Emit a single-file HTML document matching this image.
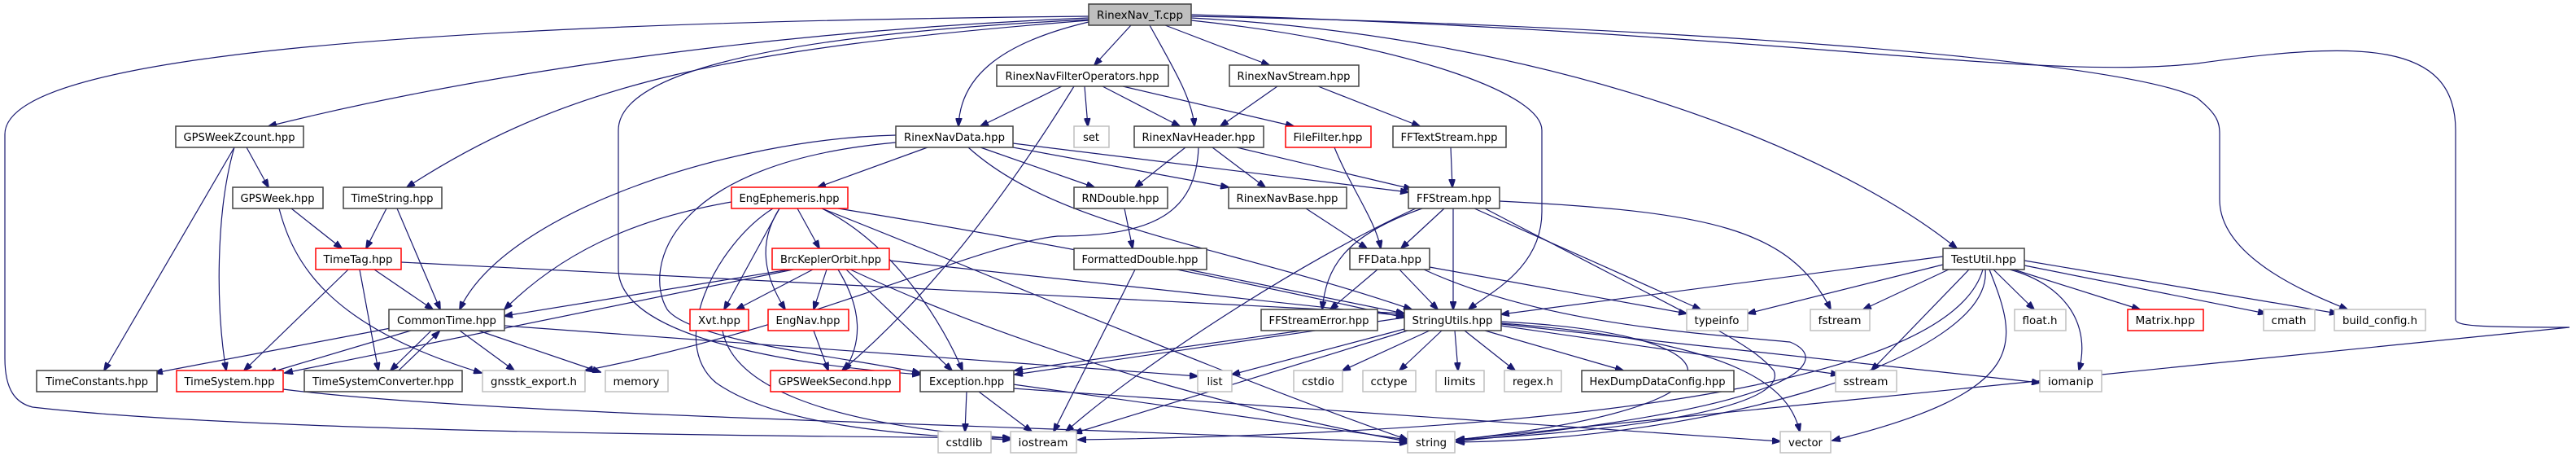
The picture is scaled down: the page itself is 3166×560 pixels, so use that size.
<!DOCTYPE html>
<html><head><meta charset="utf-8"><style>
html,body{margin:0;padding:0;background:#fff;}
svg{display:block;}
text{font-family:"DejaVu Sans","Liberation Sans",sans-serif;font-size:13px;fill:#000;}
.e{fill:none;stroke:#191970;stroke-width:1.2;}
.b{fill:#fff;stroke:#404040;stroke-width:1.5;}
.r{fill:#fff;stroke:#ff0000;stroke-width:1.5;}
.g{fill:#fff;stroke:#bfbfbf;stroke-width:1.5;}
</style></head><body>
<svg width="3166" height="560" viewBox="0 0 3166 560" xmlns="http://www.w3.org/2000/svg">
<defs>
<marker id="a" markerWidth="11" markerHeight="8" refX="10" refY="4" orient="auto" markerUnits="userSpaceOnUse">
<path d="M0,0 L11,4 L0,8 z" fill="#191970" stroke="#191970"/></marker>
</defs>
<g marker-end="url(#a)">
<!-- RinexNav_T -->
<path class="e" d="M1390,31 L1345,80"/>
<path class="e" d="M1338,27 C1220,55 1180,100 1178,155"/>
<path class="e" d="M1413,31 C1440,80 1465,120 1468,155"/>
<path class="e" d="M1432,31 L1560,80"/>
<path class="e" d="M1338,22 C900,40 550,100 330,155"/>
<path class="e" d="M1338,25 C900,60 700,100 500,230"/>
<path class="e" d="M1338,20 C300,30 6,90 6,165 L6,440 C6,480 20,495 40,500 C300,530 900,535 1242,538"/>
<path class="e" d="M1338,24 C900,45 760,100 760,160 L760,330 C760,420 1000,450 1131,460"/>
<path class="e" d="M1464,25 C1700,50 1895,110 1895,160 L1895,260 C1895,330 1830,360 1805,380"/>
<path class="e" d="M1464,22 C1900,45 2250,180 2405,305"/>
<path class="e" d="M1464,20 C2000,30 2600,70 2700,120 C2725,140 2728,150 2728,165 L2728,245 C2728,320 2850,365 2885,380"/>
<path class="e" d="M1464,18 C2200,40 2500,100 2700,78 C2900,50 3018,50 3018,160 L3018,392 C3018,400 3040,402 3158,402 L1790,540"/>
<!-- FilterOperators -->
<path class="e" d="M1305,106 L1205,155"/>
<path class="e" d="M1333,106 L1337,155"/>
<path class="e" d="M1355,106 L1450,155"/>
<path class="e" d="M1380,106 L1590,155"/>
<path class="e" d="M1320,106 C1200,300 1100,400 1035,455"/>
<!-- RinexNavStream -->
<path class="e" d="M1570,106 L1500,155"/>
<path class="e" d="M1620,106 L1745,155"/>
<!-- RinexNavData -->
<path class="e" d="M1140,181 L1005,230"/>
<path class="e" d="M1205,181 L1345,230"/>
<path class="e" d="M1245,181 L1510,230"/>
<path class="e" d="M1245,176 L1731,236"/>
<path class="e" d="M1101,166 C900,170 620,260 565,380"/>
<path class="e" d="M1190,181 C1300,280 1500,300 1735,380"/>
<path class="e" d="M1101,175 C820,200 790,330 820,380 C850,420 1050,440 1131,458"/>
<!-- RinexNavHeader -->
<path class="e" d="M1457,181 L1395,230"/>
<path class="e" d="M1490,181 L1555,230"/>
<path class="e" d="M1520,181 L1735,232"/>
<path class="e" d="M1473,181 C1470,260 1420,290 1300,290 C1200,300 1000,400 719,455"/>
<!-- FileFilter, FFTextStream, Base, RNDouble -->
<path class="e" d="M1640,181 C1660,230 1690,270 1697,305"/>
<path class="e" d="M1783,181 L1785,230"/>
<path class="e" d="M1605,256 L1680,305"/>
<path class="e" d="M1382,256 L1392,305"/>
<!-- FFStream -->
<path class="e" d="M1775,256 L1722,305"/>
<path class="e" d="M1786,256 L1786,380"/>
<path class="e" d="M1748,256 C1650,290 1630,330 1625,380"/>
<path class="e" d="M1812,256 L2090,380"/>
<path class="e" d="M1843,247 C2100,260 2200,280 2250,380"/>
<path class="e" d="M1740,256 C1600,320 1400,450 1310,530"/>
<path class="e" d="M1825,256 C2100,400 2150,420 2180,455 C2200,500 2000,530 1790,540"/>
<!-- FFData -->
<path class="e" d="M1693,331 L1635,380"/>
<path class="e" d="M1720,331 L1767,380"/>
<path class="e" d="M1757,328 L2073,385"/>
<path class="e" d="M1750,331 C1900,400 2100,410 2200,420 C2250,440 2230,500 1790,542"/>
<!-- FormattedDouble -->
<path class="e" d="M1460,331 L1726,385"/>
<path class="e" d="M1395,331 L1295,530"/>
<!-- EngEphemeris -->
<path class="e" d="M980,256 L1007,305"/>
<path class="e" d="M899,248 C800,265 700,300 620,380"/>
<path class="e" d="M958,256 L890,380"/>
<path class="e" d="M958,256 C930,300 940,340 965,380"/>
<path class="e" d="M1010,256 C1100,300 1160,400 1183,455"/>
<path class="e" d="M950,256 C880,300 820,420 880,470 C950,520 1100,535 1242,540"/>
<path class="e" d="M1010,256 C1200,330 1500,460 1730,540"/>
<path class="e" d="M1030,256 C1300,300 1500,340 1726,390"/>
<!-- BrcKeplerOrbit -->
<path class="e" d="M999,331 L905,380"/>
<path class="e" d="M1016,331 L1000,380"/>
<path class="e" d="M1030,331 C1060,380 1060,420 1038,455"/>
<path class="e" d="M1040,331 L1170,455"/>
<path class="e" d="M970,331 L620,388"/>
<path class="e" d="M975,331 L350,458"/>
<path class="e" d="M1093,320 L1726,388"/>
<path class="e" d="M1045,331 C1300,450 1600,520 1730,542"/>
<!-- Xvt, EngNav -->
<path class="e" d="M888,406 C900,470 1000,520 1242,538"/>
<path class="e" d="M1000,406 L1018,455"/>
<!-- TimeTag -->
<path class="e" d="M460,331 L532,380"/>
<path class="e" d="M428,331 L300,455"/>
<path class="e" d="M442,331 L465,455"/>
<path class="e" d="M493,322 L1726,385"/>
<!-- GPSWeekZcount -->
<path class="e" d="M303,181 L330,230"/>
<path class="e" d="M288,181 L128,455"/>
<path class="e" d="M288,181 C265,260 265,380 278,455"/>
<!-- GPSWeek / TimeString -->
<path class="e" d="M358,256 L420,305"/>
<path class="e" d="M343,256 C360,320 400,400 592,458"/>
<path class="e" d="M475,256 L450,305"/>
<path class="e" d="M488,256 L541,380"/>
<!-- CommonTime -->
<path class="e" d="M480,403 L190,458"/>
<path class="e" d="M505,406 L330,458"/>
<path class="e" d="M530,406 L480,455"/>
<path class="e" d="M565,406 L632,455"/>
<path class="e" d="M588,406 L738,457"/>
<path class="e" d="M620,400 L1472,462"/>
<path class="e" d="M490,455 L540,407"/>
<!-- TimeSystem -->
<path class="e" d="M348,478 C600,510 1200,520 1730,544"/>
<!-- Exception -->
<path class="e" d="M1188,481 L1186,530"/>
<path class="e" d="M1203,481 L1268,530"/>
<path class="e" d="M1245,472 L1730,540"/>
<path class="e" d="M1245,477 L2188,542"/>
<!-- StringUtils -->
<path class="e" d="M1726,390 L1247,460"/>
<path class="e" d="M1730,403 L1514,460"/>
<path class="e" d="M1757,406 L1650,455"/>
<path class="e" d="M1772,406 L1720,455"/>
<path class="e" d="M1788,406 L1792,455"/>
<path class="e" d="M1800,406 L1862,455"/>
<path class="e" d="M1825,406 L1995,455"/>
<path class="e" d="M1845,400 L2260,460"/>
<path class="e" d="M1845,398 L2507,470"/>
<path class="e" d="M1845,395 C2150,410 2170,500 1790,540"/>
<path class="e" d="M1845,397 C2150,420 2200,480 2212,530"/>
<path class="e" d="M1730,406 L1320,532"/>
<path class="e" d="M1600,406 L1247,455"/>
<!-- TestUtil -->
<path class="e" d="M2388,315 L1845,386"/>
<path class="e" d="M2388,325 L2148,385"/>
<path class="e" d="M2395,331 L2290,380"/>
<path class="e" d="M2420,331 L2300,455"/>
<path class="e" d="M2450,331 L2500,380"/>
<path class="e" d="M2475,331 L2630,380"/>
<path class="e" d="M2488,326 L2785,385"/>
<path class="e" d="M2488,320 L2873,385"/>
<path class="e" d="M2470,331 C2540,350 2570,400 2555,455"/>
<path class="e" d="M2437,331 C2400,460 2000,530 1325,540"/>
<path class="e" d="M2440,331 C2450,440 2100,540 1790,543"/>
<path class="e" d="M2445,331 C2480,420 2500,480 2252,541"/>
</g>
<!-- nodes -->
<rect x="1338" y="5" width="126" height="26" fill="#bfbfbf" stroke="#404040" stroke-width="1.5"/><text x="1401" y="23" text-anchor="middle" textLength="106" lengthAdjust="spacingAndGlyphs">RinexNav_T.cpp</text>
<rect class="b" x="1225" y="80" width="211" height="26"/><text x="1330" y="98" text-anchor="middle" textLength="189" lengthAdjust="spacingAndGlyphs">RinexNavFilterOperators.hpp</text>
<rect class="b" x="1511" y="80" width="159" height="26"/><text x="1590" y="98" text-anchor="middle" textLength="139" lengthAdjust="spacingAndGlyphs">RinexNavStream.hpp</text>
<rect class="b" x="216" y="155" width="157" height="26"/><text x="294" y="173" text-anchor="middle" textLength="137" lengthAdjust="spacingAndGlyphs">GPSWeekZcount.hpp</text>
<rect class="b" x="1101" y="155" width="144" height="26"/><text x="1173" y="173" text-anchor="middle" textLength="124" lengthAdjust="spacingAndGlyphs">RinexNavData.hpp</text>
<rect class="g" x="1320" y="155" width="43" height="26"/><text x="1341" y="173" text-anchor="middle">set</text>
<rect class="b" x="1394" y="155" width="159" height="26"/><text x="1473" y="173" text-anchor="middle" textLength="139" lengthAdjust="spacingAndGlyphs">RinexNavHeader.hpp</text>
<rect class="r" x="1580" y="155" width="105" height="26"/><text x="1632" y="173" text-anchor="middle" textLength="85" lengthAdjust="spacingAndGlyphs">FileFilter.hpp</text>
<rect class="b" x="1712" y="155" width="139" height="26"/><text x="1781" y="173" text-anchor="middle" textLength="119" lengthAdjust="spacingAndGlyphs">FFTextStream.hpp</text>
<rect class="b" x="286" y="230" width="111" height="26"/><text x="341" y="248" text-anchor="middle" textLength="91" lengthAdjust="spacingAndGlyphs">GPSWeek.hpp</text>
<rect class="b" x="422" y="230" width="121" height="26"/><text x="482" y="248" text-anchor="middle" textLength="101" lengthAdjust="spacingAndGlyphs">TimeString.hpp</text>
<rect class="r" x="899" y="230" width="143" height="26"/><text x="970" y="248" text-anchor="middle" textLength="123" lengthAdjust="spacingAndGlyphs">EngEphemeris.hpp</text>
<rect class="b" x="1320" y="230" width="115" height="26"/><text x="1377" y="248" text-anchor="middle" textLength="95" lengthAdjust="spacingAndGlyphs">RNDouble.hpp</text>
<rect class="b" x="1510" y="230" width="145" height="26"/><text x="1582" y="248" text-anchor="middle" textLength="125" lengthAdjust="spacingAndGlyphs">RinexNavBase.hpp</text>
<rect class="b" x="1731" y="230" width="112" height="26"/><text x="1787" y="248" text-anchor="middle" textLength="92" lengthAdjust="spacingAndGlyphs">FFStream.hpp</text>
<rect class="r" x="388" y="305" width="105" height="26"/><text x="440" y="323" text-anchor="middle" textLength="85" lengthAdjust="spacingAndGlyphs">TimeTag.hpp</text>
<rect class="r" x="949" y="305" width="144" height="26"/><text x="1021" y="323" text-anchor="middle" textLength="124" lengthAdjust="spacingAndGlyphs">BrcKeplerOrbit.hpp</text>
<rect class="b" x="1320" y="305" width="163" height="26"/><text x="1401" y="323" text-anchor="middle" textLength="143" lengthAdjust="spacingAndGlyphs">FormattedDouble.hpp</text>
<rect class="b" x="1659" y="305" width="98" height="26"/><text x="1708" y="323" text-anchor="middle" textLength="78" lengthAdjust="spacingAndGlyphs">FFData.hpp</text>
<rect class="b" x="2388" y="305" width="100" height="26"/><text x="2438" y="323" text-anchor="middle" textLength="80" lengthAdjust="spacingAndGlyphs">TestUtil.hpp</text>
<rect class="b" x="478" y="380" width="142" height="26"/><text x="549" y="398" text-anchor="middle" textLength="122" lengthAdjust="spacingAndGlyphs">CommonTime.hpp</text>
<rect class="r" x="848" y="380" width="72" height="26"/><text x="884" y="398" text-anchor="middle" textLength="52" lengthAdjust="spacingAndGlyphs">Xvt.hpp</text>
<rect class="r" x="944" y="380" width="99" height="26"/><text x="993" y="398" text-anchor="middle" textLength="79" lengthAdjust="spacingAndGlyphs">EngNav.hpp</text>
<rect class="b" x="1550" y="380" width="143" height="26"/><text x="1621" y="398" text-anchor="middle" textLength="123" lengthAdjust="spacingAndGlyphs">FFStreamError.hpp</text>
<rect class="b" x="1726" y="380" width="119" height="26"/><text x="1785" y="398" text-anchor="middle" textLength="99" lengthAdjust="spacingAndGlyphs">StringUtils.hpp</text>
<rect class="g" x="2073" y="380" width="75" height="26"/><text x="2110" y="398" text-anchor="middle" textLength="55" lengthAdjust="spacingAndGlyphs">typeinfo</text>
<rect class="g" x="2225" y="380" width="73" height="26"/><text x="2261" y="398" text-anchor="middle" textLength="53" lengthAdjust="spacingAndGlyphs">fstream</text>
<rect class="g" x="2476" y="380" width="63" height="26"/><text x="2507" y="398" text-anchor="middle" textLength="43" lengthAdjust="spacingAndGlyphs">float.h</text>
<rect class="r" x="2615" y="380" width="93" height="26"/><text x="2661" y="398" text-anchor="middle" textLength="73" lengthAdjust="spacingAndGlyphs">Matrix.hpp</text>
<rect class="g" x="2782" y="380" width="63" height="26"/><text x="2813" y="398" text-anchor="middle" textLength="43" lengthAdjust="spacingAndGlyphs">cmath</text>
<rect class="g" x="2869" y="380" width="112" height="26"/><text x="2925" y="398" text-anchor="middle" textLength="92" lengthAdjust="spacingAndGlyphs">build_config.h</text>
<rect class="b" x="45" y="455" width="148" height="26"/><text x="119" y="473" text-anchor="middle" textLength="126" lengthAdjust="spacingAndGlyphs">TimeConstants.hpp</text>
<rect class="r" x="217" y="455" width="131" height="26"/><text x="282" y="473" text-anchor="middle" textLength="111" lengthAdjust="spacingAndGlyphs">TimeSystem.hpp</text>
<rect class="b" x="374" y="455" width="194" height="26"/><text x="471" y="473" text-anchor="middle" textLength="174" lengthAdjust="spacingAndGlyphs">TimeSystemConverter.hpp</text>
<rect class="g" x="593" y="455" width="126" height="26"/><text x="656" y="473" text-anchor="middle" textLength="106" lengthAdjust="spacingAndGlyphs">gnsstk_export.h</text>
<rect class="g" x="744" y="455" width="77" height="26"/><text x="782" y="473" text-anchor="middle" textLength="57" lengthAdjust="spacingAndGlyphs">memory</text>
<rect class="r" x="947" y="455" width="159" height="26"/><text x="1026" y="473" text-anchor="middle" textLength="139" lengthAdjust="spacingAndGlyphs">GPSWeekSecond.hpp</text>
<rect class="b" x="1131" y="455" width="115" height="26"/><text x="1188" y="473" text-anchor="middle" textLength="92" lengthAdjust="spacingAndGlyphs">Exception.hpp</text>
<rect class="g" x="1472" y="455" width="42" height="26"/><text x="1493" y="473" text-anchor="middle">list</text>
<rect class="g" x="1590" y="455" width="60" height="26"/><text x="1620" y="473" text-anchor="middle" textLength="40" lengthAdjust="spacingAndGlyphs">cstdio</text>
<rect class="g" x="1675" y="455" width="65" height="26"/><text x="1707" y="473" text-anchor="middle" textLength="45" lengthAdjust="spacingAndGlyphs">cctype</text>
<rect class="g" x="1765" y="455" width="59" height="26"/><text x="1794" y="473" text-anchor="middle" textLength="39" lengthAdjust="spacingAndGlyphs">limits</text>
<rect class="g" x="1849" y="455" width="70" height="26"/><text x="1884" y="473" text-anchor="middle" textLength="50" lengthAdjust="spacingAndGlyphs">regex.h</text>
<rect class="b" x="1944" y="455" width="187" height="26"/><text x="2037" y="473" text-anchor="middle" textLength="167" lengthAdjust="spacingAndGlyphs">HexDumpDataConfig.hpp</text>
<rect class="g" x="2256" y="455" width="75" height="26"/><text x="2293" y="473" text-anchor="middle" textLength="55" lengthAdjust="spacingAndGlyphs">sstream</text>
<rect class="g" x="2507" y="455" width="76" height="26"/><text x="2545" y="473" text-anchor="middle" textLength="56" lengthAdjust="spacingAndGlyphs">iomanip</text>
<rect class="g" x="1153" y="530" width="65" height="26"/><text x="1185" y="548" text-anchor="middle" textLength="45" lengthAdjust="spacingAndGlyphs">cstdlib</text>
<rect class="g" x="1242" y="530" width="81" height="26"/><text x="1282" y="548" text-anchor="middle" textLength="61" lengthAdjust="spacingAndGlyphs">iostream</text>
<rect class="g" x="1730" y="530" width="58" height="26"/><text x="1759" y="548" text-anchor="middle" textLength="38" lengthAdjust="spacingAndGlyphs">string</text>
<rect class="g" x="2188" y="530" width="62" height="26"/><text x="2219" y="548" text-anchor="middle" textLength="42" lengthAdjust="spacingAndGlyphs">vector</text>
</svg>
</body></html>
